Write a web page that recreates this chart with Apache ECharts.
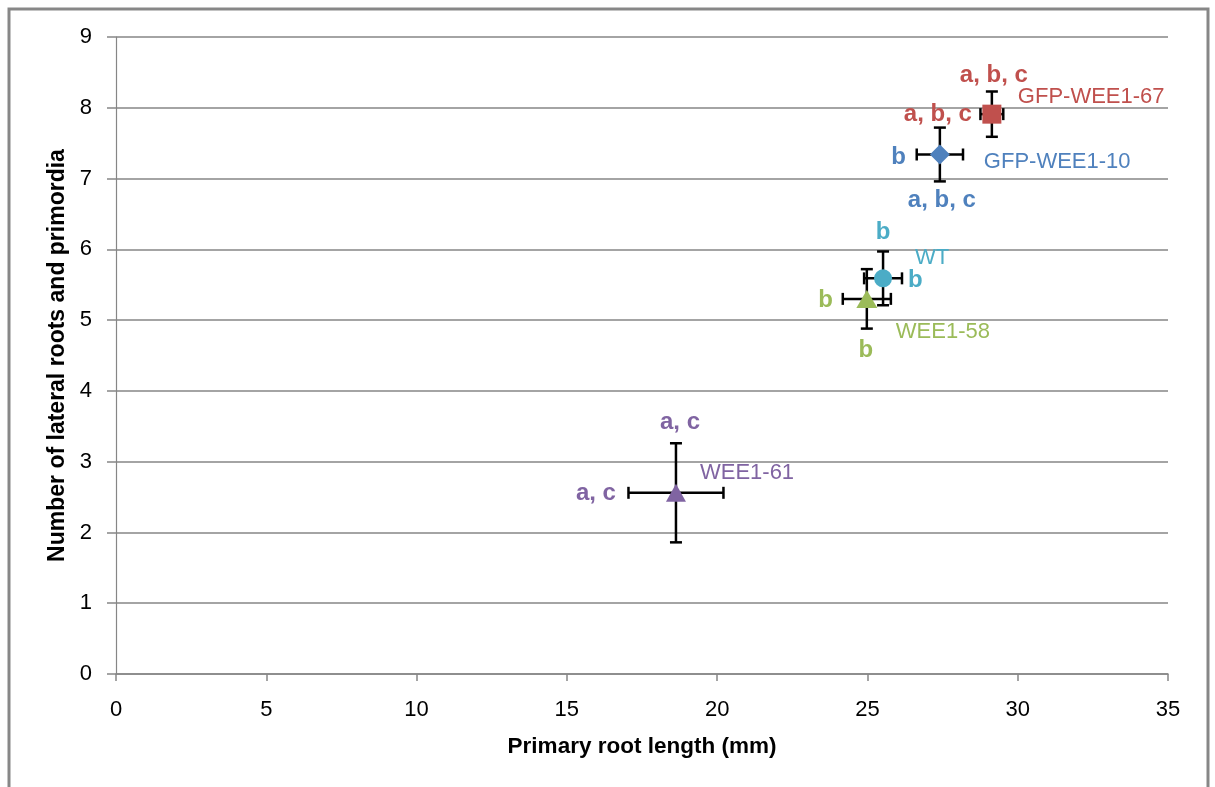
<!DOCTYPE html>
<html>
<head>
<meta charset="utf-8">
<script src="https://cdn.jsdelivr.net/npm/echarts@6/dist/echarts.min.js"></script>
<style>
html,body{margin:0;padding:0;background:#fff;}
#chart{width:1215px;height:787px;}
</style>
</head>
<body>
<div id="chart"></div>
<script>
// ---- data ----
const lines = ['GFP-WEE1-67', 'GFP-WEE1-10', 'WT', 'WEE1-58', 'WEE1-61'];
const rootLength = [29.14, 27.41, 25.52, 24.98, 18.63];
const lateralRoots = [7.91, 7.34, 5.59, 5.30, 2.56];
const rootLengthErr = [0.38, 0.77, 0.63, 0.80, 1.58];
const lateralRootsErr = [0.32, 0.38, 0.38, 0.42, 0.70];
const lengthLetters = ['a, b, c', 'b', 'b', 'b', 'a, c'];
const lateralLetters = ['a, b, c', 'a, b, c', 'b', 'b', 'a, c'];
const xTicks = [0, 5, 10, 15, 20, 25, 30, 35];
const yTicks = [0, 1, 2, 3, 4, 5, 6, 7, 8, 9];

// ---- styles ----
const colors = ['#C0504D', '#4F81BD', '#4BACC6', '#9BBB59', '#8064A2'];
const symbols = ['rect', 'diamond', 'circle', 'triangle', 'triangle'];
const symbolSizes = [[19, 19], [20, 20], [18, 18], [21, 18], [20, 18]];
const nameLabelPos = [
  {align: 'left', offset: [26, -17]},
  {align: 'left', offset: [44, 7]},
  {align: 'left', offset: [32, -20]},
  {align: 'left', offset: [29, 33]},
  {align: 'left', offset: [24, -20]}
];
const lengthLabelPos = [
  {align: 'right', offset: [-20, 0]},
  {align: 'right', offset: [-34, 3]},
  {align: 'left', offset: [25, 2]},
  {align: 'right', offset: [-34, 1]},
  {align: 'right', offset: [-60, 1]}
];
const lateralLabelPos = [
  {align: 'center', offset: [2, -39]},
  {align: 'center', offset: [2, 46]},
  {align: 'center', offset: [0, -46]},
  {align: 'center', offset: [-1, 51]},
  {align: 'center', offset: [4, -70]}
];
const FONT = 'Liberation Sans';

const chart = echarts.init(document.getElementById('chart'));

const errData = lines.map((n, i) => [rootLength[i], lateralRoots[i], rootLengthErr[i], lateralRootsErr[i]]);

function labelSeries(texts, pos, bold, size) {
  return {
    type: 'scatter',
    silent: true,
    z: 5,
    symbol: 'circle',
    symbolSize: 1,
    itemStyle: {color: 'rgba(0,0,0,0)', opacity: 1},
    emphasis: {disabled: true},
    data: lines.map((n, i) => ({
      value: [rootLength[i], lateralRoots[i]],
      label: {
        show: true,
        position: 'inside',
        formatter: texts[i],
        color: colors[i],
        opacity: 1,
        fontFamily: FONT,
        fontWeight: bold ? 'bold' : 'normal',
        fontSize: size,
        verticalAlign: 'middle',
        align: pos[i].align,
        offset: pos[i].offset
      }
    }))
  };
}

const series = [
  {
    type: 'custom',
    z: 2,
    silent: true,
    encode: {x: 0, y: 1},
    data: errData,
    renderItem: function (params, api) {
      const x = api.value(0), y = api.value(1), ex = api.value(2), ey = api.value(3);
      const l = api.coord([x - ex, y]), r = api.coord([x + ex, y]);
      const t = api.coord([x, y + ey]), b = api.coord([x, y - ey]);
      const cap = 6;
      const st = {stroke: '#000', lineWidth: 2.5};
      const mk = (x1, y1, x2, y2) => ({type: 'line', shape: {x1, y1, x2, y2}, style: st});
      return {
        type: 'group',
        children: [
          mk(l[0], l[1], r[0], r[1]),
          mk(l[0], l[1] - cap, l[0], l[1] + cap),
          mk(r[0], r[1] - cap, r[0], r[1] + cap),
          mk(t[0], t[1], b[0], b[1]),
          mk(t[0] - cap, t[1], t[0] + cap, t[1]),
          mk(b[0] - cap, b[1], b[0] + cap, b[1])
        ]
      };
    }
  }
];

lines.forEach((n, i) => {
  series.push({
    type: 'scatter',
    name: n,
    z: 4,
    silent: true,
    symbol: symbols[i],
    symbolSize: symbolSizes[i],
    itemStyle: {color: colors[i], opacity: 1},
    emphasis: {disabled: true},
    data: [[rootLength[i], lateralRoots[i]]]
  });
});

series.push(labelSeries(lines, nameLabelPos, false, 22));
series.push(labelSeries(lengthLetters, lengthLabelPos, true, 24));
series.push(labelSeries(lateralLetters, lateralLabelPos, true, 24));

chart.setOption({
  animation: false,
  backgroundColor: '#fff',
  grid: {left: 116, right: 47, top: 37, bottom: 113},
  xAxis: {
    type: 'value',
    min: xTicks[0],
    max: xTicks[xTicks.length - 1],
    interval: 5,
    name: 'Primary root length (mm)',
    nameLocation: 'middle',
    nameGap: 61,
    nameTextStyle: {fontFamily: FONT, fontWeight: 'bold', fontSize: 22.5, color: '#000'},
    axisLine: {show: true, lineStyle: {color: '#868686', width: 1.5}},
    axisTick: {show: true, length: 7, lineStyle: {color: '#868686', width: 1.5}},
    axisLabel: {fontFamily: FONT, fontSize: 22, color: '#000', margin: 25},
    splitLine: {show: false}
  },
  yAxis: {
    type: 'value',
    min: yTicks[0],
    max: yTicks[yTicks.length - 1],
    interval: 1,
    name: 'Number of lateral roots and primordia',
    nameLocation: 'middle',
    nameGap: 45,
    nameTextStyle: {fontFamily: FONT, fontWeight: 'bold', fontSize: 23, color: '#000'},
    axisLine: {show: true, lineStyle: {color: '#868686', width: 1.2}},
    axisTick: {show: true, length: 9, lineStyle: {color: '#868686', width: 1.5}},
    axisLabel: {fontFamily: FONT, fontSize: 22, color: '#000', margin: 24},
    splitLine: {show: true, lineStyle: {color: '#868686', width: 1.5}}
  },
  graphic: [{
    type: 'rect',
    silent: true,
    shape: {x: 9, y: 9, width: 1199, height: 800},
    style: {fill: 'none', stroke: '#878787', lineWidth: 3}
  }],
  series: series
});
</script>
</body>
</html>
